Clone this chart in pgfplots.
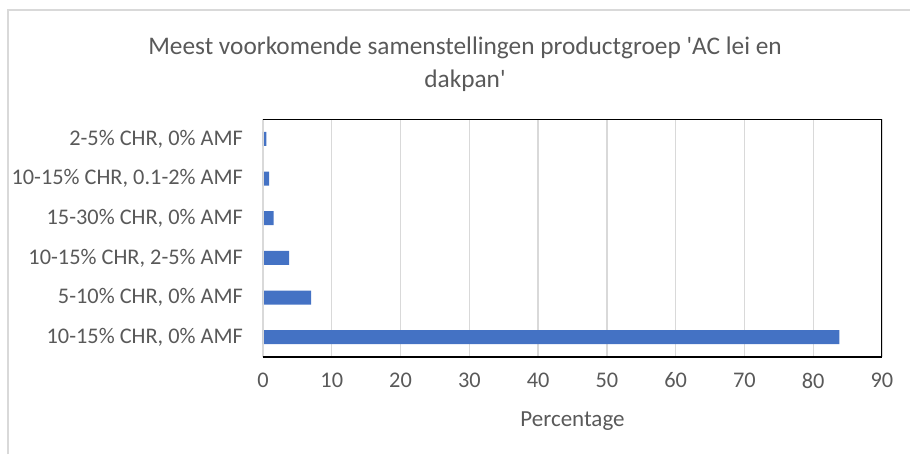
\documentclass[border=0pt]{standalone}
\usepackage{pgfplots}
\pgfplotsset{compat=1.18}
\usepackage{fontspec}
\setmainfont{Carlito}

\definecolor{barblue}{HTML}{4472C4}
\definecolor{txtgray}{HTML}{595959}
\definecolor{gridgray}{HTML}{D9D9D9}

\begin{document}
\begin{tikzpicture}[x=0.6pt,y=0.6pt]
% page area and chart border
\path[use as bounding box] (0,0) rectangle (910,454);
\draw[gridgray, line width=0.8pt] (8,0) -- (8,444) -- (910,444);
\node[txtgray, align=center, font=\fontsize{15.2}{19.8}\selectfont] at (465,390) {Meest voorkomende samenstellingen productgroep \textquotesingle AC lei en\\dakpan\textquotesingle};
\coordinate (plotsw) at (263,97);

\begin{axis}[
    at={(plotsw)}, anchor=south west,
    scale only axis,
    width=371.4pt, height=142.8pt,
    xbar,
    bar width=8.4pt,
    xmin=0, xmax=90,
    ymin=-0.5, ymax=5.5,
    xtick={0,10,...,90},
    ytick={0,1,2,3,4,5},
    yticklabels={10-15\% CHR{,} 0\% AMF, 5-10\% CHR{,} 0\% AMF, 10-15\% CHR{,} 2-5\% AMF, 15-30\% CHR{,} 0\% AMF, 10-15\% CHR{,} 0.1-2\% AMF, 2-5\% CHR{,} 0\% AMF},
    /pgf/number format/assume math mode=true,
    tick label style={txtgray, font=\fontsize{13.4}{15}\selectfont},
    xticklabel style={yshift=-6pt},
    yticklabel style={xshift=-8.5pt},
    xlabel={Percentage},
    xlabel style={txtgray, font=\fontsize{13.8}{16}\selectfont, yshift=-7pt},
    major tick length=0pt,
    xmajorgrids=true,
    grid style={gridgray, line width=0.8pt},
    axis line style={draw=none},
]
\addplot[fill=barblue, draw=none] coordinates {
    (83.8,0) (7.0,1) (3.8,2) (1.55,3) (0.9,4) (0.5,5)
};
\draw[gridgray, line width=0.8pt] (rel axis cs:0,0) -- (rel axis cs:0,1);
\draw[black, line width=1.3pt] (rel axis cs:0,1) -- (rel axis cs:1,1) -- (rel axis cs:1,0) -- (rel axis cs:0,0);
\end{axis}
\end{tikzpicture}
\end{document}
